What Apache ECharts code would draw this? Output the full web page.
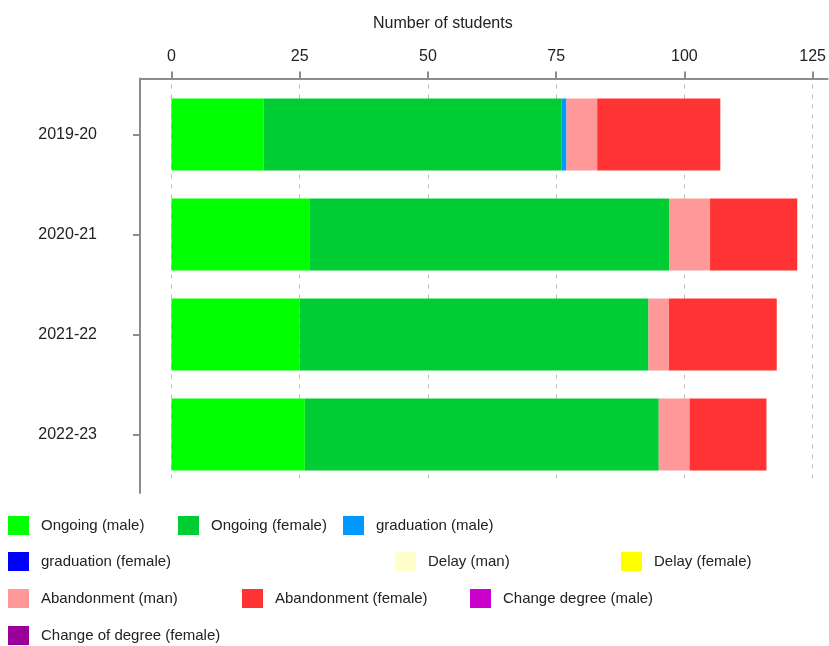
<!DOCTYPE html>
<html><head><meta charset="utf-8">
<script src="https://cdn.jsdelivr.net/npm/echarts@6/dist/echarts.min.js"></script>
<style>html,body{margin:0;padding:0;background:#fff}#c{width:829px;height:646px}</style>
</head><body><div id="c"></div>
<script>
const categories = ['2019-20', '2020-21', '2021-22', '2022-23'];
const tickValues = [0, 25, 50, 75, 100, 125];
const axisTitle = 'Number of students';

const seriesNames = [
  'Ongoing (male)', 'Ongoing (female)', 'graduation (male)', 'graduation (female)',
  'Delay (man)', 'Delay (female)', 'Abandonment (man)', 'Abandonment (female)',
  'Change degree (male)', 'Change of degree (female)'
];
const ongoingMale        = [18, 27, 25, 26];
const ongoingFemale      = [58, 70, 68, 69];
const graduationMale     = [1, 0, 0, 0];
const graduationFemale   = [0, 0, 0, 0];
const delayMan           = [0, 0, 0, 0];
const delayFemale        = [0, 0, 0, 0];
const abandonmentMan     = [6, 8, 4, 6];
const abandonmentFemale  = [24, 17, 21, 15];
const changeDegreeMale   = [0, 0, 0, 0];
const changeDegreeFemale = [0, 0, 0, 0];

const seriesValues = [ongoingMale, ongoingFemale, graduationMale, graduationFemale,
  delayMan, delayFemale, abandonmentMan, abandonmentFemale, changeDegreeMale, changeDegreeFemale];
const colors = ['#00ff00', '#00cc33', '#0099ff', '#0000ff', '#ffffcc', '#ffff00',
  '#ff9999', '#ff3333', '#cc00cc', '#990099'];

// legend layout (left, top) per item
const legendLayout = [
  [8, 516], [178, 516], [343, 516],
  [8, 552], [395, 552], [621, 552],
  [8, 589], [242, 589], [470, 589],
  [8, 626]
];

const FONT = '"Liberation Sans", Arial, sans-serif';
const AXIS_COLOR = '#8c8c8c';

const chart = echarts.init(document.getElementById('c'), null, {renderer: 'canvas'});

const legends = seriesNames.map((name, i) => ({
  data: [name],
  left: legendLayout[i][0],
  top: legendLayout[i][1],
  padding: 0,
  itemWidth: 21,
  itemHeight: 19,
  icon: 'rect',
  selectedMode: false,
  textStyle: {fontFamily: FONT, fontSize: 15, color: '#222', padding: [0, 0, 0, 7]}
}));

const option = {
  animation: false,
  backgroundColor: '#fff',
  textStyle: {fontFamily: FONT},
  title: {
    text: axisTitle,
    left: 373, top: 16, padding: 0,
    textStyle: {fontFamily: FONT, fontSize: 16, fontWeight: 'normal', color: '#222'}
  },
  legend: legends,
  grid: [
    {left: 140, right: 0, top: 84.5, height: 400, containLabel: false},
    {left: 140, width: 1, top: 78.5, height: 414.5, containLabel: false}
  ],
  xAxis: [
    {
      type: 'value', gridIndex: 0, position: 'top', offset: 6,
      min: -6.13, max: 127.92,
      axisLine: {show: true, onZero: false, lineStyle: {color: AXIS_COLOR, width: 2}},
      axisTick: {show: true, length: 7, customValues: tickValues, lineStyle: {color: AXIS_COLOR, width: 2}},
      axisLabel: {customValues: tickValues, margin: 14, fontFamily: FONT, fontSize: 16, color: '#222'},
      splitLine: {show: true, lineStyle: {color: '#bdbdbd', width: 1, type: [4, 6]}}
    },
    {type: 'value', gridIndex: 1, show: false}
  ],
  yAxis: [
    {
      type: 'category', gridIndex: 0, data: categories, inverse: true,
      axisLine: {show: false, onZero: false},
      axisTick: {show: true, length: 7, alignWithLabel: true, lineStyle: {color: AXIS_COLOR, width: 2}},
      axisLabel: {margin: 43, fontFamily: FONT, fontSize: 16, color: '#222'},
      splitLine: {show: false}
    },
    {
      type: 'value', gridIndex: 1,
      axisLine: {show: true, onZero: false, lineStyle: {color: AXIS_COLOR, width: 2}},
      axisTick: {show: false}, axisLabel: {show: false}, splitLine: {show: false}
    }
  ],
  series: seriesNames.map((name, i) => ({
    name: name,
    type: 'bar',
    stack: 'total',
    xAxisIndex: 0, yAxisIndex: 0,
    barWidth: 72,
    itemStyle: {color: colors[i]},
    data: seriesValues[i]
  }))
};
chart.setOption(option);
</script></body></html>
